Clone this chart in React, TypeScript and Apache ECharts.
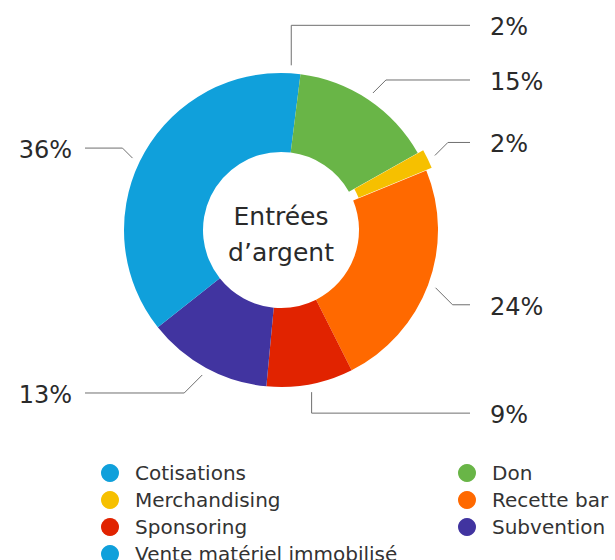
import React, { useEffect, useRef } from 'react';
import * as echarts from 'echarts';

// ---- data ----
const sliceNames = [
  'Vente matériel immobilisé',
  'Don',
  'Merchandising',
  'Recette bar',
  'Sponsoring',
  'Subvention',
  'Cotisations',
];
const slicePercents = [2, 15, 2, 24, 9, 13, 36];
const sliceColors = ['#10a0db', '#69b547', '#f6c000', '#ff6900', '#e12300', '#4134a0', '#10a0db'];
const explodedSlice = 'Merchandising';
const legendLeftColumn = ['Cotisations', 'Merchandising', 'Sponsoring', 'Vente matériel immobilisé'];
const legendRightColumn = ['Don', 'Recette bar', 'Subvention'];
const centerTitleLines = ['Entrées', 'd’argent'];

// ---- style (label line bends, px) ----
const labelRise = [40, 13, 13, 17, 21, 18, 10];
const FONT = '"DejaVu Sans", "Liberation Sans", sans-serif';
const CX = 281;
const CY = 230;
const RADIUS: [number, number] = [78, 157];
const EXPLODE = 6;
const GAP = 8;

function makeLabelLayout(riseOf: (dataIndex: number) => number) {
  return (p: any) => {
    const pts = p.labelLinePoints;
    if (!pts || pts.length < 2) return {};
    const p0 = pts[0];
    const p1 = pts[1];
    let dx = p1[0] - p0[0];
    let dy = p1[1] - p0[1];
    const len = Math.hypot(dx, dy) || 1;
    dx /= len;
    dy /= len;
    const a = [p0[0] + dx * GAP, p0[1] + dy * GAP];
    const rise = riseOf(p.dataIndex);
    const right = dx >= 0;
    const vertical = Math.abs(dx) < 0.35;
    const sy = dy >= 0 ? 1 : -1;
    const b = vertical
      ? [a[0], a[1] + sy * rise]
      : [a[0] + (right ? 1 : -1) * rise, a[1] + sy * rise];
    const endX = right ? 470 : 85;
    return {
      x: right ? 490 : 72,
      y: b[1] + 2,
      align: right ? 'left' : 'right',
      verticalAlign: 'middle',
      labelLinePoints: [a, b, [endX, b[1]]],
    };
  };
}

export default function App() {
  const ref = useRef<HTMLDivElement>(null);

  useEffect(() => {
    if (!ref.current) return;
    const chart = echarts.init(ref.current, null, { renderer: 'svg' });

    const total = slicePercents.reduce((s, v) => s + v, 0);
    const exIdx = sliceNames.indexOf(explodedSlice);
    const before = slicePercents.slice(0, exIdx).reduce((s, v) => s + v, 0);
    const exVal = slicePercents[exIdx];
    const midRad = ((before + exVal / 2) / total) * Math.PI * 2;
    const exCenter = [CX + EXPLODE * Math.sin(midRad), CY - EXPLODE * Math.cos(midRad)];
    const exStart = 90 - (before / total) * 360;

    const colorOf = (name: string) => sliceColors[sliceNames.indexOf(name)];
    const legendData = (names: string[]) =>
      names.map((name) => ({ name, itemStyle: { color: colorOf(name), opacity: 1 } }));

    const commonLabel = {
      show: true,
      position: 'outside',
      formatter: '{c}%',
      fontSize: 24,
      fontFamily: FONT,
      color: '#2a2a2a',
    };
    const commonLine = {
      show: true,
      length: 10,
      length2: 10,
      smooth: false,
      lineStyle: { color: '#6f6f6f', width: 1 },
    };
    const legendBase = {
      orient: 'vertical',
      top: 463,
      height: 160,
      padding: 0,
      itemWidth: 40,
      itemHeight: 18,
      itemGap: 7,
      icon: 'circle',
      selectedMode: false,
      textStyle: { fontSize: 20, color: '#333', fontFamily: FONT },
    };

    const option: any = {
      animation: false,
      backgroundColor: '#ffffff',
      legend: [
        { ...legendBase, left: 101, data: legendData(legendLeftColumn) },
        { ...legendBase, left: 458, data: legendData(legendRightColumn) },
      ],
      graphic: [
        {
          type: 'text',
          x: CX,
          y: 234,
          style: {
            text: centerTitleLines.join('\n'),
            align: 'center',
            verticalAlign: 'middle',
            textAlign: 'center',
            textVerticalAlign: 'middle',
            fontSize: 25,
            lineHeight: 36,
            fontFamily: FONT,
            fill: '#2a2a2a',
          },
        },
      ],
      series: [
        {
          type: 'pie',
          name: 'main',
          center: [CX, CY],
          radius: RADIUS,
          startAngle: 90,
          clockwise: true,
          avoidLabelOverlap: false,
          itemStyle: { borderWidth: 0 },
          emphasis: { disabled: true },
          label: commonLabel,
          labelLine: commonLine,
          labelLayout: makeLabelLayout((i) => labelRise[i]),
          data: sliceNames.map((name, i) =>
            i === exIdx
              ? {
                  name,
                  value: slicePercents[i],
                  itemStyle: { color: sliceColors[i], opacity: 0 },
                  label: { show: false },
                  labelLine: { show: false },
                }
              : { name, value: slicePercents[i], itemStyle: { color: sliceColors[i] } }
          ),
        },
        {
          type: 'pie',
          name: 'exploded',
          center: exCenter,
          radius: RADIUS,
          startAngle: exStart,
          clockwise: true,
          avoidLabelOverlap: false,
          itemStyle: { borderWidth: 0 },
          emphasis: { disabled: true },
          label: commonLabel,
          labelLine: commonLine,
          labelLayout: makeLabelLayout((i) => (i === 0 ? labelRise[exIdx] : 0)),
          data: [
            { name: explodedSlice, value: exVal, itemStyle: { color: sliceColors[exIdx] } },
            {
              name: '',
              value: total - exVal,
              itemStyle: { color: 'rgba(0,0,0,0)' },
              label: { show: false },
              labelLine: { show: false },
              tooltip: { show: false },
            },
          ],
        },
      ],
    };
    chart.setOption(option);
    return () => chart.dispose();
  }, []);

  return (
    <div
      ref={ref}
      style={{ position: 'fixed', left: 0, top: 0, width: 615, height: 560, background: '#fff' }}
    />
  );
}
